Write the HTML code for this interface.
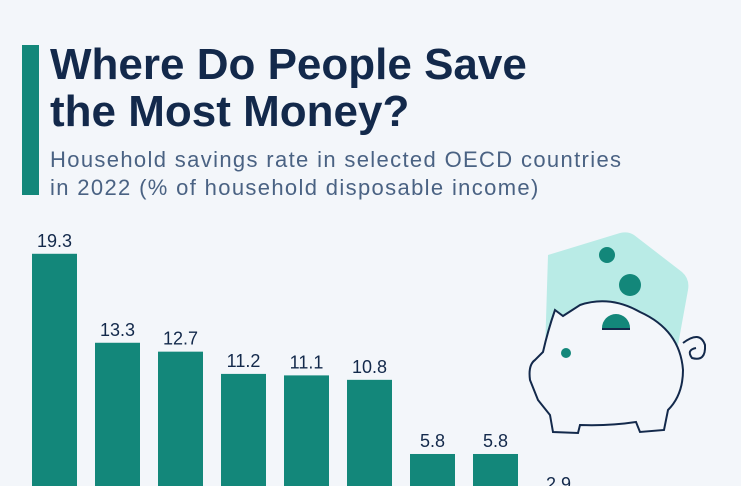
<!DOCTYPE html>
<html><head><meta charset="utf-8"><style>
html,body{margin:0;width:741px;height:486px;overflow:hidden}
body{background:#f3f6fa;font-family:"Liberation Sans",sans-serif;position:relative}
#accent{position:absolute;left:22px;top:45px;width:17px;height:150px;background:#13877a}
#title{position:absolute;left:50px;top:41px;font-size:44px;font-weight:bold;color:#13294b;line-height:47px;margin:0;white-space:nowrap}
#sub{position:absolute;left:50px;top:146px;font-size:22px;letter-spacing:1.35px;color:#4a6283;line-height:28px;white-space:nowrap}
svg{position:absolute;left:0;top:0;overflow:hidden}
</style></head><body>
<div id="accent"></div>
<h1 id="title">Where Do People Save<br>the Most Money?</h1>
<div id="sub">Household savings rate in selected OECD countries<br>in 2022 (% of household disposable income)</div>
<svg width="741" height="486" id="chart">
<g>
<path d="M548 255 L620 233 Q628 231 634 235 L682 272 Q690 279 688 290 L678 345 L545 352 Z" fill="#b9ebe6"/>
<path d="M555 310 L563 316 L580 305 Q610 295 640 312 Q680 330 683 370 Q683 395 668 410 L664 430 L640 432 L636 422 Q610 426 580 425 L578 433 L553 432 L550 415 L538 400 L530 380 Q528 365 535 360 L543 352 Q548 330 555 310 Z" fill="#f3f6fa" stroke="#13294b" stroke-width="2"/>
<circle cx="566" cy="353" r="5" fill="#13877a"/>
<circle cx="607" cy="255" r="8" fill="#13877a"/>
<circle cx="630" cy="285" r="11" fill="#13877a"/>
<path d="M602 328 A14 14 0 1 1 630 328 Z" fill="#13877a"/>
<line x1="602" y1="329" x2="630" y2="329" stroke="#13294b" stroke-width="2"/>
<path d="M683 343 Q700 330 705 345 Q706 362 692 358 Q686 350 696 348" fill="none" stroke="#13294b" stroke-width="2"/>
</g>
<g id="bars"></g>
</svg>
<script>
const categories=["c1","c2","c3","c4","c5","c6","c7","c8","c9"];
const values=[19.3,13.3,12.7,11.2,11.1,10.8,5.8,5.8,2.9];
const labels=["19.3","13.3","12.7","11.2","11.1","10.8","5.8","5.8","2.9"];
const base=540,scale=14.83,x0=32,step=63,bw=45;
const y=v=>base-v*scale;
const g=document.getElementById('bars');
const ns='http://www.w3.org/2000/svg';
values.forEach((v,i)=>{
const r=document.createElementNS(ns,'rect');
const top=y(v);
r.setAttribute('x',x0+i*step);r.setAttribute('y',top);r.setAttribute('width',bw);r.setAttribute('height',Math.max(0,486-top));r.setAttribute('fill','#13877a');


g.appendChild(r);
const t=document.createElementNS(ns,'text');
t.setAttribute('x',x0+i*step+bw/2);t.setAttribute('y',top-7);t.setAttribute('text-anchor','middle');t.setAttribute('font-size','18');t.setAttribute('fill','#13294b');t.setAttribute('font-family','Liberation Sans, sans-serif');
t.textContent=labels[i];


g.appendChild(t);
});
</script>
</body></html>
